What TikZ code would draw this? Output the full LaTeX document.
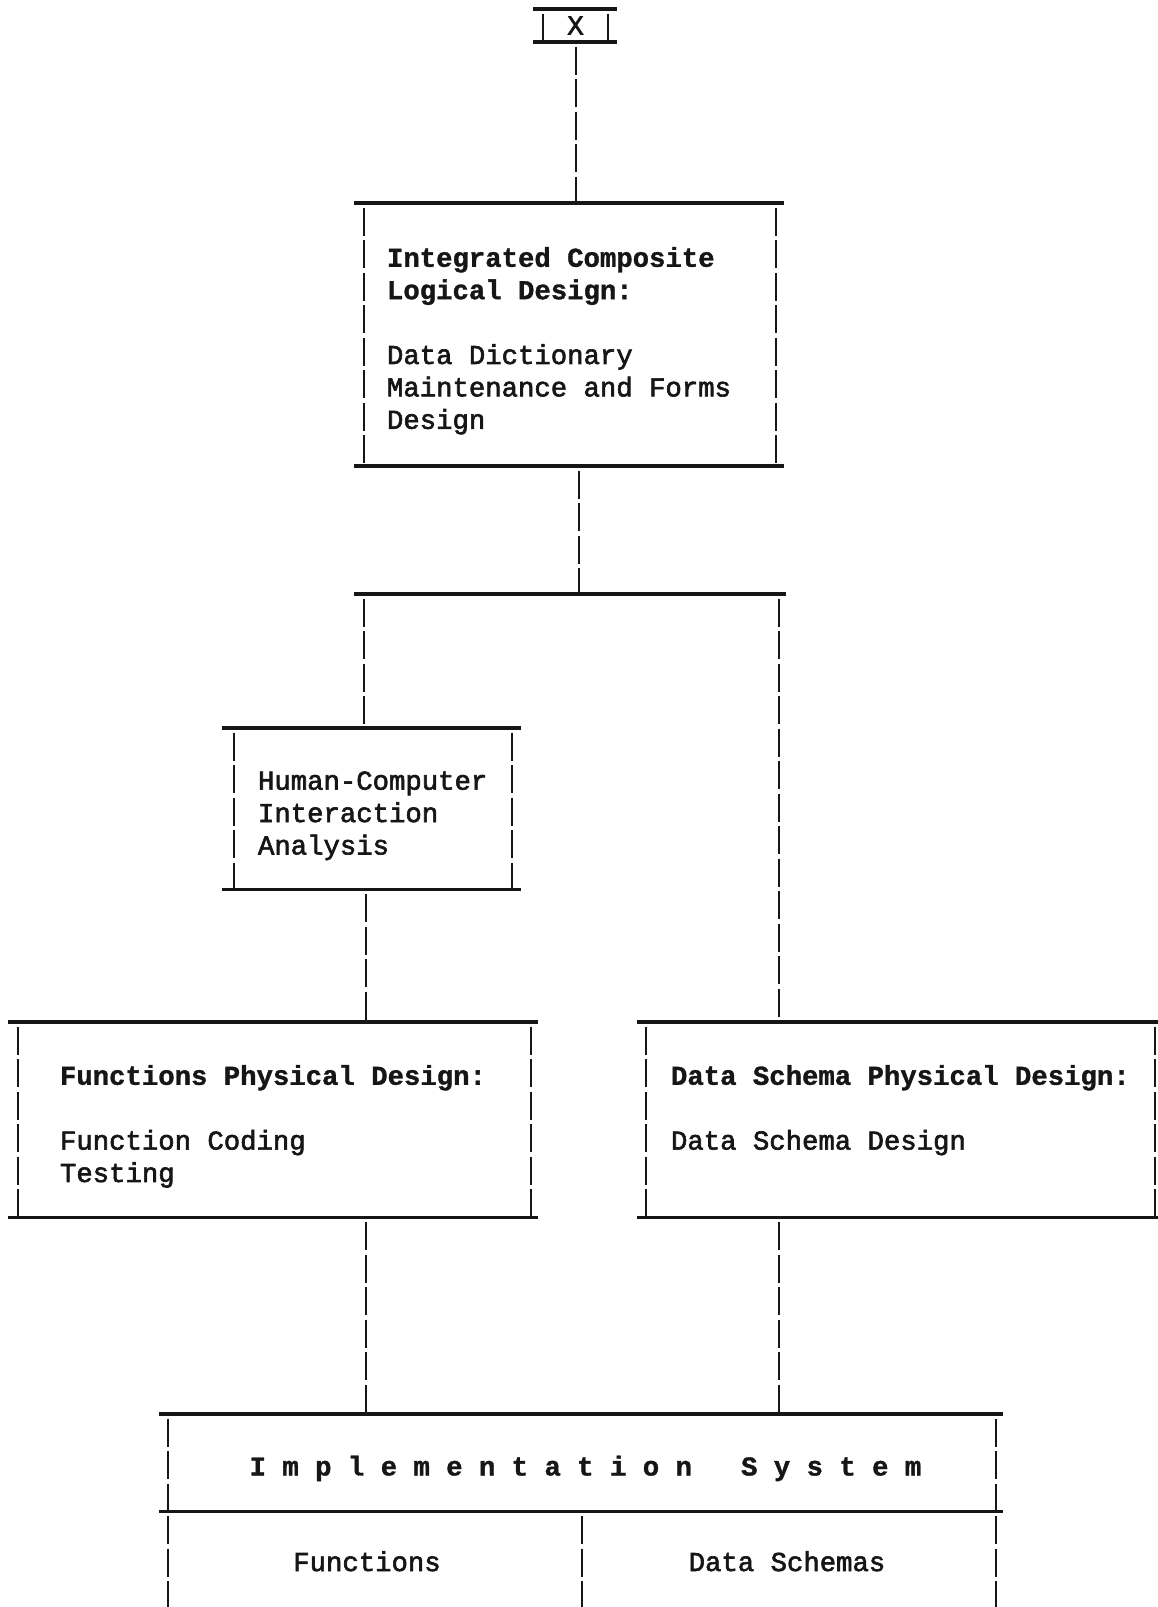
\documentclass[tikz,border=0pt]{standalone}
\usepackage{fontspec}
\usetikzlibrary{calc}
\newfontfamily\typew[FakeBold=1.2]{Liberation Mono}
\newfontfamily\typewsoft[FakeBold=2.2]{Liberation Mono}
\newcommand\hd{\typew\bfseries}
\definecolor{ink}{HTML}{161616}

\tikzset{
  hrule/.style={draw=ink, line width=3.4pt},
  vrule/.style={draw=ink, line width=2.8pt, dash pattern=on 28pt off 4.5pt, dash phase=28pt},
  frame/.style={draw=none, inner sep=0pt, outer sep=0pt},
  tw/.style={inner sep=0pt, outer sep=0pt, text=ink, font=\typewsoft\fontsize{27.3pt}{32.4pt}\selectfont},
  body/.style={tw, anchor=north west, align=left},
}

% typed box: horizontal rules with overhang, dashed vertical sides
\newcommand\typedframe[3]{%
  \draw[hrule] ($(#1.north west)+(-#2,0)$) -- ($(#1.north east)+(#3,0)$);
  \draw[hrule] ($(#1.south west)+(-#2,0)$) -- ($(#1.south east)+(#3,0)$);
  \draw[vrule] (#1.north west) -- (#1.south west);
  \draw[vrule] (#1.north east) -- (#1.south east);
}

\begin{document}
\begin{tikzpicture}[x=1pt,y=-1pt]
  \fill[white] (0,0) rectangle (1158,1607);
  \useasboundingbox (0,0) rectangle (1158,1607);

  % box frames
  \node[frame, tw, minimum width=65pt, minimum height=33pt] (bx) at (575.5,25.5) {X};
  \node[frame, minimum width=412pt, minimum height=263pt] (b1) at (570,334.5) {};
  \node[frame, minimum width=278pt, minimum height=161.5pt] (b2) at (373,808.75) {};
  \node[frame, minimum width=513pt, minimum height=195.5pt] (b3) at (274.5,1119.75) {};
  \node[frame, minimum width=509pt, minimum height=195.5pt] (b4) at (900.5,1119.75) {};
  \node[frame, minimum width=828pt, minimum height=97.5pt] (b5) at (582,1462.75) {};
  \node[frame, minimum width=414pt, minimum height=95.5pt] (fn) at (375,1559.25) {};
  \node[frame, minimum width=414pt, minimum height=95.5pt] (ds) at (789,1559.25) {};

  \typedframe{bx}{10}{9}
  \typedframe{b1}{10}{8}
  \typedframe{b2}{12}{9}
  \typedframe{b3}{10}{7}
  \typedframe{b4}{9}{3}
  \typedframe{b5}{9}{7}
  \draw[vrule] (fn.north west) -- (fn.south west);
  \draw[vrule] (fn.north east) -- (fn.south east);
  \draw[vrule] (ds.north east) -- (ds.south east);

  % box texts
  \node[body] (t1) at (387,247) {\hd Integrated Composite\\ \hd Logical Design:\\[32.4pt]
    Data Dictionary\\Maintenance and Forms\\Design};
  \node[body] (t2) at (258,771.4) {Human-Computer\\Interaction\\Analysis};
  \node[body] (t3) at (60,1065) {\hd Functions Physical Design:\\[32.4pt]
    Function Coding\\Testing};
  \node[body] (t4) at (671,1065) {\hd Data Schema Physical Design:\\[32.4pt]
    Data Schema Design};
  \node[tw, anchor=base] (t5) at (585.5,1475.5)
    {\hd I m p l e m e n t a t i o n\ \ \ S y s t e m};
  \node[tw, anchor=base] (t6) at (367,1571) {Functions};
  \node[tw, anchor=base] (t7) at (787,1571) {Data Schemas};

  % connectors
  \coordinate (colX) at (576,0);
  \coordinate (tap) at (579,594);
  \coordinate (barL) at (354,594);
  \coordinate (barR) at (786,594);
  \coordinate (dropL) at (364,594);
  \coordinate (dropR) at (779,594);
  \coordinate (colL) at (366,0);
  \coordinate (colR) at (779,0);

  \draw[vrule] (colX |- bx.south) -- (colX |- b1.north);
  \draw[vrule] (tap |- b1.south) -- (tap);
  \draw[hrule] (barL) -- (barR);
  \draw[vrule] (dropL) -- (dropL |- b2.north);
  \draw[vrule] (dropR) -- (dropR |- b4.north);
  \draw[vrule] (colL |- b2.south) -- (colL |- b3.north);
  \draw[vrule] (colL |- b3.south) -- (colL |- b5.north);
  \draw[vrule] (colR |- b4.south) -- (colR |- b5.north);
\end{tikzpicture}
\end{document}
